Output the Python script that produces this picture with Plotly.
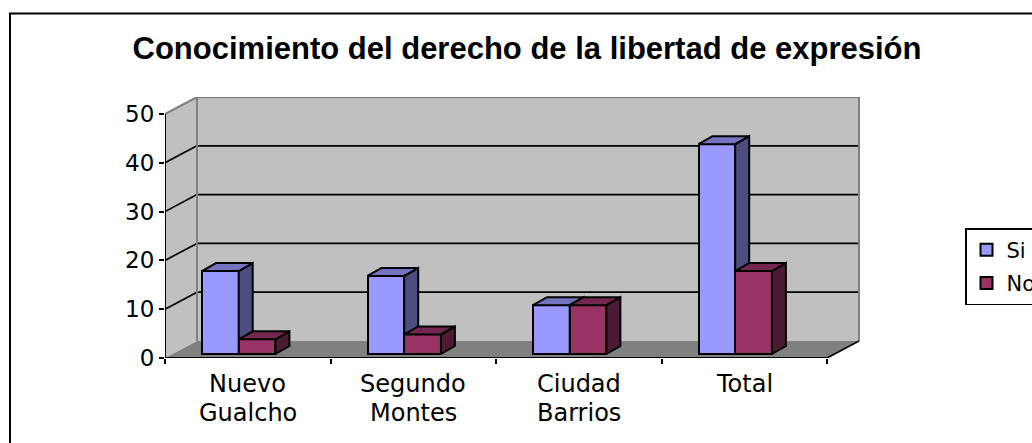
import plotly.graph_objects as go

title = "Conocimiento del derecho de la libertad de expresión"
cat_line1 = ["Nuevo", "Segundo", "Ciudad", "Total"]
cat_line2 = ["Gualcho", "Montes", "Barrios", ""]
si = [17, 16, 10, 43]
no = [3, 4, 10, 17]
y_ticks = [0, 10, 20, 30, 40, 50]

W, H = 1032, 443
L, R, T, B = 165, 860, 97, 358
unit_y = 4.88
unit_x = 165.5
wall_dx = 32 / unit_x
wall_dy = 17 / unit_y
bar_off = 37 / unit_x
bar_w = 36.7 / unit_x
bar_base = 4 / unit_y
bar_dx = 14 / unit_x
bar_dy = 8 / unit_y
n = len(si)
x_range = [0, (R - L) / unit_x]
y_range = [0, (B - T) / unit_y]
FONT = "DejaVu Sans"

fig = go.Figure()


def faces(vals, offs, side_col, top_col, xa, ya):
    for i, v in enumerate(vals):
        xl = i + offs
        xr = xl + bar_w
        b = bar_base
        t = b + v
        fig.add_trace(go.Scatter(
            x=[xr, xr + bar_dx, xr + bar_dx, xr, xr],
            y=[b, b + bar_dy, t + bar_dy, t, b],
            mode="lines", fill="toself", fillcolor=side_col,
            line=dict(color="black", width=2), showlegend=False,
            hoverinfo="skip", xaxis=xa, yaxis=ya))
        fig.add_trace(go.Scatter(
            x=[xl, xr, xr + bar_dx, xl + bar_dx, xl],
            y=[t, t, t + bar_dy, t + bar_dy, t],
            mode="lines", fill="toself", fillcolor=top_col,
            line=dict(color="black", width=2), showlegend=False,
            hoverinfo="skip", xaxis=xa, yaxis=ya))


fig.add_trace(go.Bar(
    name="Si", legendgroup="si", x=[i + bar_off for i in range(n)], y=si, base=bar_base, width=bar_w, offset=0,
    marker=dict(color="#9999FF", line=dict(color="black", width=2)), xaxis="x", yaxis="y"))
faces(si, bar_off, "#4D4D80", "#7373BF", "x", "y")
fig.add_trace(go.Bar(
    name="No", legendgroup="no", x=[i + bar_off + bar_w for i in range(n)], y=no, base=bar_base, width=bar_w, offset=0,
    marker=dict(color="#993366", line=dict(color="black", width=2)), xaxis="x2", yaxis="y2"))
faces(no, bar_off + bar_w, "#4D1A33", "#732650", "x2", "y2")

shapes = []


def poly(pts, fill):
    path = "M " + " L ".join(f"{x},{y}" for x, y in pts) + " Z"
    shapes.append(dict(type="path", path=path, xref="x", yref="y", fillcolor=fill, layer="below",
                       line=dict(color=fill, width=0)))


def seg(x0, y0, x1, y1, color="black", width=1.7):
    shapes.append(dict(type="line", x0=x0, y0=y0, x1=x1, y1=y1, xref="x", yref="y", layer="below",
                       line=dict(color=color, width=width)))


# frame
shapes.append(dict(type="rect", xref="paper", yref="paper", layer="below",
                   x0=(10 - L) / (R - L), x1=(1060 - L) / (R - L),
                   y0=(B - 470) / (B - T), y1=(B - 13.5) / (B - T),
                   fillcolor="white", line=dict(color="black", width=2)))
# walls and floor
poly([(0, 0), (0, 50), (wall_dx, 50 + wall_dy), (wall_dx, wall_dy)], "#C0C0C0")
poly([(wall_dx, wall_dy), (wall_dx, 50 + wall_dy), (n + wall_dx, 50 + wall_dy), (n + wall_dx, wall_dy)], "#C0C0C0")
poly([(0, 0), (n, 0), (n + wall_dx, wall_dy), (wall_dx, wall_dy)], "#808080")
for v in y_ticks[1:-1]:
    seg(0, v, wall_dx, v + wall_dy)
    seg(wall_dx, v + wall_dy, n + wall_dx, v + wall_dy)
seg(wall_dx, wall_dy, wall_dx, 50 + wall_dy, "#808080", 2)
seg(n + wall_dx, wall_dy, n + wall_dx, 50 + wall_dy, "#808080", 2)
seg(wall_dx, 50 + wall_dy, n + wall_dx, 50 + wall_dy, "#808080", 2.5)
seg(0, 50, wall_dx, 50 + wall_dy, "#808080", 2)
seg(n, 0, n + wall_dx, wall_dy)
seg(0, 0, 0, 50, "black", 2)
seg(0, 0, n, 0, "black", 2)

ann = []
for i, (a, b) in enumerate(zip(cat_line1, cat_line2)):
    for txt, py in ((a, 384), (b, 413)):
        if txt:
            ann.append(dict(text=txt, x=i + 0.5, y=(B - py) / (B - T), xref="x", yref="paper",
                            showarrow=False, yanchor="middle", xanchor="center",
                            font=dict(family=FONT, size=24, color="black")))

fig.update_layout(
    width=W, height=H,
    margin=dict(l=L, r=W - R, t=T, b=H - B, autoexpand=False, pad=0),
    paper_bgcolor="white", plot_bgcolor="rgba(0,0,0,0)",
    barmode="overlay", bargap=0,
    title=dict(text=f"<b>{title}</b>", x=527 / W, xanchor="center", y=1 - 48 / H, yanchor="middle",
               font=dict(family="Liberation Sans", size=31, color="black")),
    shapes=shapes, annotations=ann,
    legend=dict(x=(965 - L) / (R - L), y=(B - 228) / (B - T), xanchor="left", yanchor="top",
                bgcolor="white", bordercolor="black", borderwidth=1.5,
                font=dict(family=FONT, size=21, color="black"),
                itemsizing="constant", tracegroupgap=3),
    xaxis=dict(range=x_range, tickmode="array", tickvals=list(range(n + 1)), ticktext=[""] * (n + 1),
               ticks="outside", ticklen=5, tickwidth=2, tickcolor="black",
               showgrid=False, zeroline=False, showline=False),
    yaxis=dict(range=y_range, tickmode="array", tickvals=y_ticks, ticks="outside", ticklen=5, tickwidth=2,
               tickcolor="black", showgrid=False, zeroline=False, showline=False,
               tickfont=dict(family=FONT, size=23, color="black")),
    xaxis2=dict(range=x_range, overlaying="x", anchor="y2", visible=False),
    yaxis2=dict(range=y_range, overlaying="y", anchor="x2", visible=False),
)
fig.write_html("out.html", config={"displayModeBar": False}, post_script="document.body.style.margin='0';")
